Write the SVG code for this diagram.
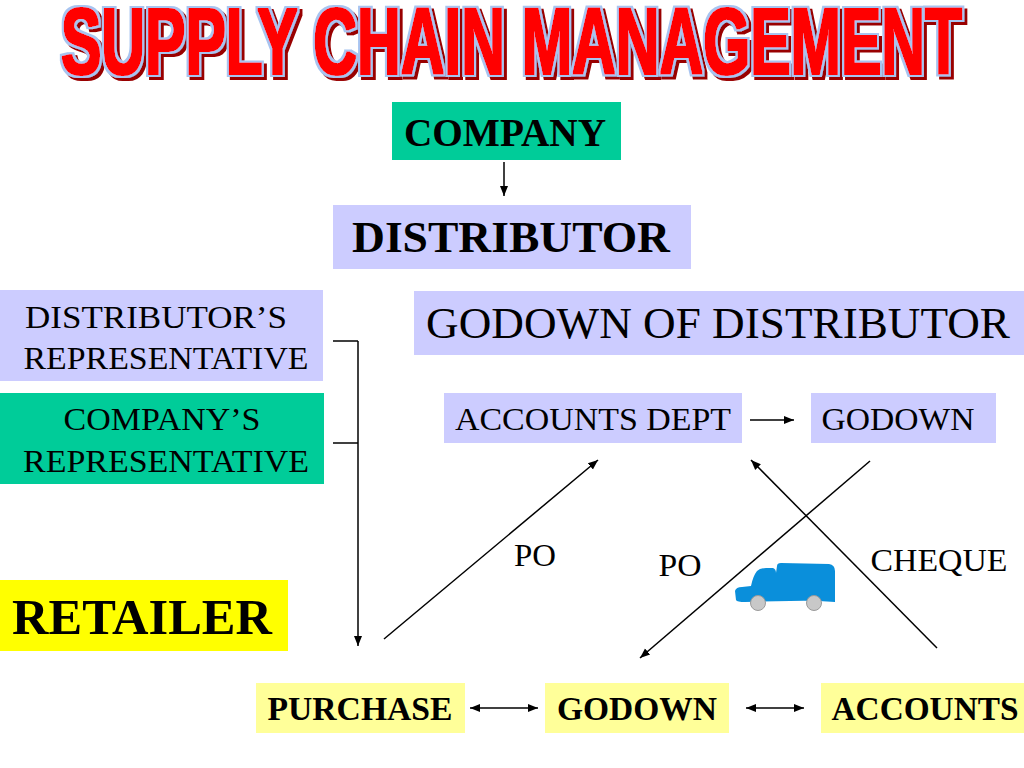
<svg xmlns="http://www.w3.org/2000/svg" width="1024" height="768" viewBox="0 0 1024 768">
<defs>
<marker id="ah" viewBox="0 0 10 10" refX="10" refY="5" markerWidth="10" markerHeight="10" markerUnits="userSpaceOnUse" orient="auto-start-reverse">
<path d="M0,1 L10,5 L0,9 Z" fill="#000"/>
</marker>
<filter id="shadow" x="-5%" y="-20%" width="110%" height="150%">
<feMorphology in="SourceGraphic" operator="dilate" radius="1" result="fat"/>
<feMorphology in="SourceAlpha" operator="dilate" radius="2.6" result="outA"/>
<feFlood flood-color="#A8C4F0"/>
<feComposite in2="outA" operator="in" result="outline"/>
<feOffset in="outA" dx="3" dy="3" result="offA"/>
<feFlood flood-color="#990000"/>
<feComposite in2="offA" operator="in" result="sh"/>
<feMerge><feMergeNode in="sh"/><feMergeNode in="outline"/><feMergeNode in="fat"/></feMerge>
</filter>
<style>
.t{font-family:"Liberation Serif","Times New Roman",serif;fill:#000;text-anchor:middle}
.b{font-weight:bold}
.ln{stroke:#000;stroke-width:1.5;fill:none}
.ttl{font-family:"Liberation Sans Narrow","Liberation Sans",Arial,sans-serif;font-weight:bold;font-size:70px}
</style>
</defs>
<rect width="1024" height="768" fill="#fff"/>
<g id="title" filter="url(#shadow)">
<g transform="translate(0,74) scale(1,1.34)">
<text class="ttl" x="61" y="0" textLength="901" lengthAdjust="spacingAndGlyphs" fill="#FF0000">SUPPLY CHAIN MANAGEMENT</text>
</g>
</g>
<g id="company"><rect x="392" y="102" width="229" height="58" fill="#00CC99"/><text class="t b" x="505" y="146" font-size="40" textLength="202" lengthAdjust="spacingAndGlyphs">COMPANY</text></g>
<g id="distributor"><rect x="333" y="205" width="358" height="64" fill="#CCCCFF"/><text class="t b" x="511" y="252" font-size="44" textLength="318" lengthAdjust="spacingAndGlyphs">DISTRIBUTOR</text></g>
<g id="dist-rep"><rect x="0" y="290" width="323" height="91" fill="#CCCCFF"/><text class="t" x="156" y="328" font-size="32" textLength="262" lengthAdjust="spacingAndGlyphs">DISTRIBUTOR’S</text><text class="t" x="166" y="369" font-size="32" textLength="285" lengthAdjust="spacingAndGlyphs">REPRESENTATIVE</text></g>
<g id="comp-rep"><rect x="0" y="393" width="324" height="91" fill="#00CC99"/><text class="t" x="162" y="430" font-size="32" textLength="197" lengthAdjust="spacingAndGlyphs">COMPANY’S</text><text class="t" x="166" y="472" font-size="32" textLength="286" lengthAdjust="spacingAndGlyphs">REPRESENTATIVE</text></g>
<g id="godown-of-distributor"><rect x="414" y="291" width="610" height="64" fill="#CCCCFF"/><text class="t" x="718" y="338" font-size="44" textLength="584" lengthAdjust="spacingAndGlyphs">GODOWN OF DISTRIBUTOR</text></g>
<g id="accounts-dept"><rect x="444" y="393" width="298" height="50" fill="#CCCCFF"/><text class="t" x="593" y="430" font-size="32" textLength="276" lengthAdjust="spacingAndGlyphs">ACCOUNTS DEPT</text></g>
<g id="godown-top"><rect x="811" y="393" width="185" height="50" fill="#CCCCFF"/><text class="t" x="898" y="430" font-size="32" textLength="153" lengthAdjust="spacingAndGlyphs">GODOWN</text></g>
<g id="retailer"><rect x="0" y="580" width="288" height="71" fill="#FFFF00"/><text class="t b" x="142" y="634" font-size="50" textLength="260" lengthAdjust="spacingAndGlyphs">RETAILER</text></g>
<g id="purchase"><rect x="256" y="683" width="209" height="50" fill="#FFFF99"/><text class="t b" x="360" y="720" font-size="34" textLength="185" lengthAdjust="spacingAndGlyphs">PURCHASE</text></g>
<g id="godown-bottom"><rect x="545" y="683" width="184" height="50" fill="#FFFF99"/><text class="t b" x="637" y="720" font-size="34" textLength="160" lengthAdjust="spacingAndGlyphs">GODOWN</text></g>
<g id="accounts"><rect x="821" y="683" width="203" height="50" fill="#FFFF99"/><text class="t b" x="925" y="720" font-size="34" textLength="187" lengthAdjust="spacingAndGlyphs">ACCOUNTS</text></g>
<g id="connectors">
<line class="ln" x1="504" y1="162" x2="504" y2="196" marker-end="url(#ah)"/>
<line class="ln" x1="750" y1="420" x2="794" y2="420" marker-end="url(#ah)"/>
<line class="ln" x1="333" y1="341" x2="358" y2="341"/>
<line class="ln" x1="333" y1="443" x2="358" y2="443"/>
<line class="ln" x1="358" y1="341" x2="358" y2="646" marker-end="url(#ah)"/>
<line class="ln" x1="384" y1="639" x2="598" y2="460" marker-end="url(#ah)"/>
<line class="ln" x1="870" y1="461" x2="640" y2="658" marker-end="url(#ah)"/>
<line class="ln" x1="937" y1="648" x2="751" y2="460" marker-end="url(#ah)"/>
<line class="ln" x1="470" y1="708" x2="538" y2="708" marker-start="url(#ah)" marker-end="url(#ah)"/>
<line class="ln" x1="746" y1="708" x2="804" y2="708" marker-start="url(#ah)" marker-end="url(#ah)"/>
<text class="t" x="535" y="566" font-size="32" textLength="42" lengthAdjust="spacingAndGlyphs">PO</text>
<text class="t" x="680" y="576" font-size="32" textLength="43" lengthAdjust="spacingAndGlyphs">PO</text>
<text class="t" x="939" y="571" font-size="32" textLength="137" lengthAdjust="spacingAndGlyphs">CHEQUE</text>
</g>
<g id="truck">
<path d="M736,600 L735,591 Q736,587 742,587 L751,586 Q753,576 757,571 Q760,568 766,568 L773,568 Q776,569 776,573 L777,566 Q777,563 781,563 L829,564 Q835,565 835,571 L835,602 Q810,600 790,601 L745,602 Q737,602 736,600 Z" fill="#0A8FDB"/>
<circle cx="758" cy="603" r="7.5" fill="#C8C8C8" stroke="#9A9A9A" stroke-width="1"/>
<circle cx="814" cy="603" r="7.5" fill="#C8C8C8" stroke="#9A9A9A" stroke-width="1"/>
</g>
</svg>
